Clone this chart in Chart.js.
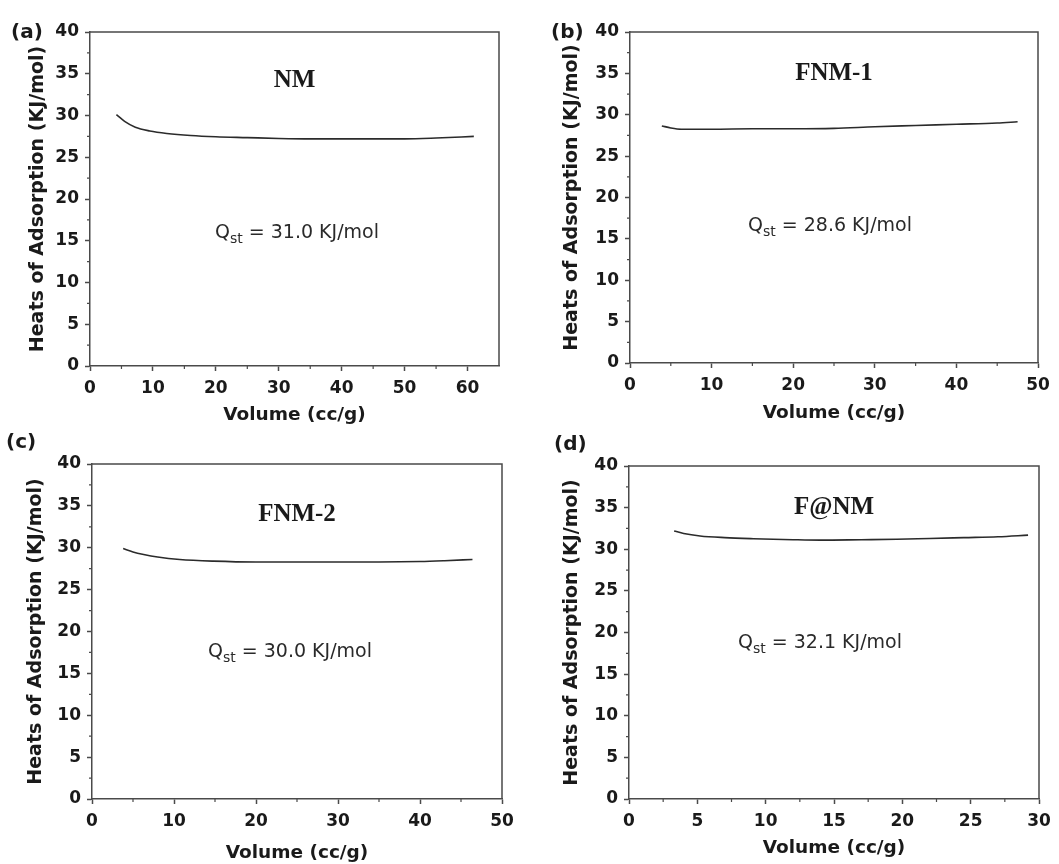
<!DOCTYPE html>
<html>
<head>
<meta charset="utf-8">
<script src="https://cdn.jsdelivr.net/npm/chart.js@4/dist/chart.umd.min.js"></script>
<style>
  html, body { margin: 0; padding: 0; background: #fff; }
  body { width: 1059px; height: 864px; position: relative; overflow: hidden; }
  canvas { position: absolute; }
</style>
</head>
<body>
<canvas id="cA"></canvas>
<canvas id="cB"></canvas>
<canvas id="cC"></canvas>
<canvas id="cD"></canvas>
<script>
// ---------------- DATA ----------------
const panelLabels = ['(a)', '(b)', '(c)', '(d)'];
const sampleNames = ['NM', 'FNM-1', 'FNM-2', 'F@NM'];
const qstValues = ['31.0', '28.6', '30.0', '32.1'];
const xAxisTitle = 'Volume (cc/g)';
const yAxisTitle = 'Heats of Adsorption (KJ/mol)';
const xMaxes = [65, 50, 50, 30];
const xSteps = [10, 10, 10, 5];
const yMax = 40;
const ySteps = 5;

const nmX = [4.2, 5.5, 7.2, 9.5, 12.2, 16, 20, 25, 30, 35, 40, 45, 50, 55, 61];
const nmY = [30.1, 29.3, 28.6, 28.15, 27.85, 27.6, 27.45, 27.35, 27.25, 27.2, 27.2, 27.2, 27.2, 27.3, 27.5];

const fnm1X = [3.9, 5, 6.3, 10, 15, 20, 25, 30, 35, 40, 45, 47.5];
const fnm1Y = [28.65, 28.4, 28.25, 28.25, 28.3, 28.3, 28.35, 28.55, 28.7, 28.85, 29.0, 29.15];

const fnm2X = [3.8, 5, 6.3, 8, 10.7, 14.8, 20, 25, 30, 35, 40, 43, 46.4];
const fnm2Y = [29.9, 29.5, 29.2, 28.9, 28.6, 28.4, 28.3, 28.3, 28.3, 28.3, 28.35, 28.45, 28.6];

const fanmX = [3.3, 4, 5.2, 7, 9.1, 12, 14, 17, 19.6, 22, 24.5, 27, 29.2];
const fanmY = [32.2, 31.9, 31.6, 31.4, 31.27, 31.15, 31.1, 31.15, 31.2, 31.3, 31.4, 31.5, 31.7];

// ---------------- LAYOUT ----------------
const layouts = [
  { id: 'cA', rect: {x: 0,   y: 0,   w: 530, h: 432}, area: {l: 90,  t: 32,  r: 499,  b: 366}, xTitleY: 415, yTitleX: 38,
    lab: {x: 11, y: 38}, name: {dy: 55}, q: {dx: 125, dy: 206} },
  { id: 'cB', rect: {x: 530, y: 0,   w: 529, h: 432}, area: {l: 630, t: 32,  r: 1038, b: 363}, xTitleY: 413, yTitleX: 572,
    lab: {x: 551, y: 38}, name: {dy: 48}, q: {dx: 118, dy: 199} },
  { id: 'cC', rect: {x: 0,   y: 432, w: 530, h: 432}, area: {l: 92,  t: 464, r: 502,  b: 799}, xTitleY: 853, yTitleX: 36,
    lab: {x: 6, y: 448}, name: {dy: 57}, q: {dx: 116, dy: 193} },
  { id: 'cD', rect: {x: 530, y: 432, w: 529, h: 432}, area: {l: 629, t: 466, r: 1039, b: 799}, xTitleY: 848, yTitleX: 572,
    lab: {x: 554, y: 450}, name: {dy: 48}, q: {dx: 109, dy: 182} }
];

const seriesX = [nmX, fnm1X, fnm2X, fanmX];
const seriesY = [nmY, fnm1Y, fnm2Y, fanmY];

const AXIS_COLOR = '#4a4a4a';
const TEXT_COLOR = '#1a1a1a';
const tickFont = { family: 'DejaVu Sans', weight: 'bold', size: 17 };
const xTitleFont = { family: 'DejaVu Sans', weight: 'bold', size: 18.5, lineHeight: 1.2 };
const yTitleFont = { family: 'DejaVu Sans', weight: 'bold', size: 19, lineHeight: 1.2 };

function decoPlugin(i, L) {
  return {
    id: 'deco' + i,
    afterDraw(chart) {
      const ctx = chart.ctx;
      const a = chart.chartArea;
      const xs = chart.scales.x, ys = chart.scales.y;
      ctx.save();
      // box top & right
      ctx.strokeStyle = AXIS_COLOR;
      ctx.lineWidth = 1.5;
      ctx.beginPath();
      ctx.moveTo(a.left, a.top);
      ctx.lineTo(a.right, a.top);
      ctx.lineTo(a.right, a.bottom);
      ctx.stroke();
      // minor ticks
      ctx.lineWidth = 1.2;
      ctx.beginPath();
      for (let v = xSteps[i] / 2; v < xMaxes[i]; v += xSteps[i]) {
        const px = xs.getPixelForValue(v);
        ctx.moveTo(px, a.bottom);
        ctx.lineTo(px, a.bottom + 3);
      }
      for (let v = ySteps / 2; v < yMax; v += ySteps) {
        const py = ys.getPixelForValue(v);
        ctx.moveTo(a.left, py);
        ctx.lineTo(a.left - 3, py);
      }
      ctx.stroke();
      // panel label
      const ox = L.rect.x, oy = L.rect.y;
      ctx.fillStyle = TEXT_COLOR;
      ctx.font = 'bold 20px "DejaVu Sans"';
      ctx.textAlign = 'left';
      ctx.textBaseline = 'alphabetic';
      ctx.fillText(panelLabels[i], L.lab.x - ox, L.lab.y - oy);
      // sample name
      ctx.font = 'bold 25px "Liberation Serif"';
      ctx.textAlign = 'center';
      ctx.fillText(sampleNames[i], (a.left + a.right) / 2, a.top + L.name.dy);
      // Q_st annotation
      ctx.fillStyle = '#2a2a2a';
      ctx.textAlign = 'left';
      let x = a.left + L.q.dx;
      const by = a.top + L.q.dy;
      ctx.font = '19px "DejaVu Sans"';
      ctx.fillText('Q', x, by);
      x += ctx.measureText('Q').width;
      ctx.font = '14px "DejaVu Sans"';
      ctx.fillText('st', x, by + 5);
      x += ctx.measureText('st').width;
      ctx.font = '19px "DejaVu Sans"';
      ctx.fillText(' = ' + qstValues[i] + ' KJ/mol', x, by);
      ctx.restore();
    }
  };
}

layouts.forEach((L, i) => {
  const cv = document.getElementById(L.id);
  cv.width = L.rect.w; cv.height = L.rect.h;
  cv.style.left = L.rect.x + 'px'; cv.style.top = L.rect.y + 'px';
  cv.style.width = L.rect.w + 'px'; cv.style.height = L.rect.h + 'px';

  const xlh = xTitleFont.size * xTitleFont.lineHeight;
  const ylh = yTitleFont.size * yTitleFont.lineHeight;
  const xTitlePadBottom = Math.max(0, L.rect.h - xlh / 2 - (L.xTitleY - L.rect.y));
  const yTitlePadTop = (L.yTitleX - L.rect.x) - ylh / 2;

  const pts = seriesX[i].map((x, k) => ({ x: x, y: seriesY[i][k] }));
  const step = xSteps[i];

  new Chart(cv.getContext('2d'), {
    type: 'scatter',
    data: {
      datasets: [{
        data: pts,
        showLine: true,
        borderColor: '#2b2b2b',
        borderWidth: 1.6,
        pointRadius: 0,
        fill: false,
        cubicInterpolationMode: 'monotone'
      }]
    },
    options: {
      responsive: false,
      animation: false,
      devicePixelRatio: 1,
      plugins: { legend: { display: false }, tooltip: { enabled: false } },
      layout: { padding: { left: 0, top: L.area.t - L.rect.y, right: L.rect.x + L.rect.w - L.area.r, bottom: 0 } },
      scales: {
        x: {
          type: 'linear', min: 0, max: xMaxes[i],
          afterBuildTicks(s) { s.ticks = s.ticks.filter(t => Math.abs(t.value / step - Math.round(t.value / step)) < 1e-6); },
          ticks: { stepSize: step, font: tickFont, color: TEXT_COLOR, padding: 7, maxRotation: 0 },
          grid: { drawOnChartArea: false, drawTicks: true, tickLength: 5, tickColor: AXIS_COLOR, tickWidth: 1.5 },
          border: { display: true, color: AXIS_COLOR, width: 1.5 },
          title: { display: true, text: xAxisTitle, font: xTitleFont, color: TEXT_COLOR, padding: { top: 0, bottom: xTitlePadBottom } },
          afterFit(s) { s.height = L.rect.y + L.rect.h - L.area.b; }
        },
        y: {
          type: 'linear', min: 0, max: yMax,
          ticks: { stepSize: ySteps, font: tickFont, color: TEXT_COLOR, padding: 6 },
          grid: { drawOnChartArea: false, drawTicks: true, tickLength: 5, tickColor: AXIS_COLOR, tickWidth: 1.5 },
          border: { display: true, color: AXIS_COLOR, width: 1.5 },
          title: { display: true, text: yAxisTitle, font: yTitleFont, color: TEXT_COLOR, padding: { top: yTitlePadTop, bottom: 0 } },
          afterFit(s) { s.width = L.area.l - L.rect.x; }
        }
      }
    },
    plugins: [decoPlugin(i, L)]
  });
});
</script>
</body>
</html>
